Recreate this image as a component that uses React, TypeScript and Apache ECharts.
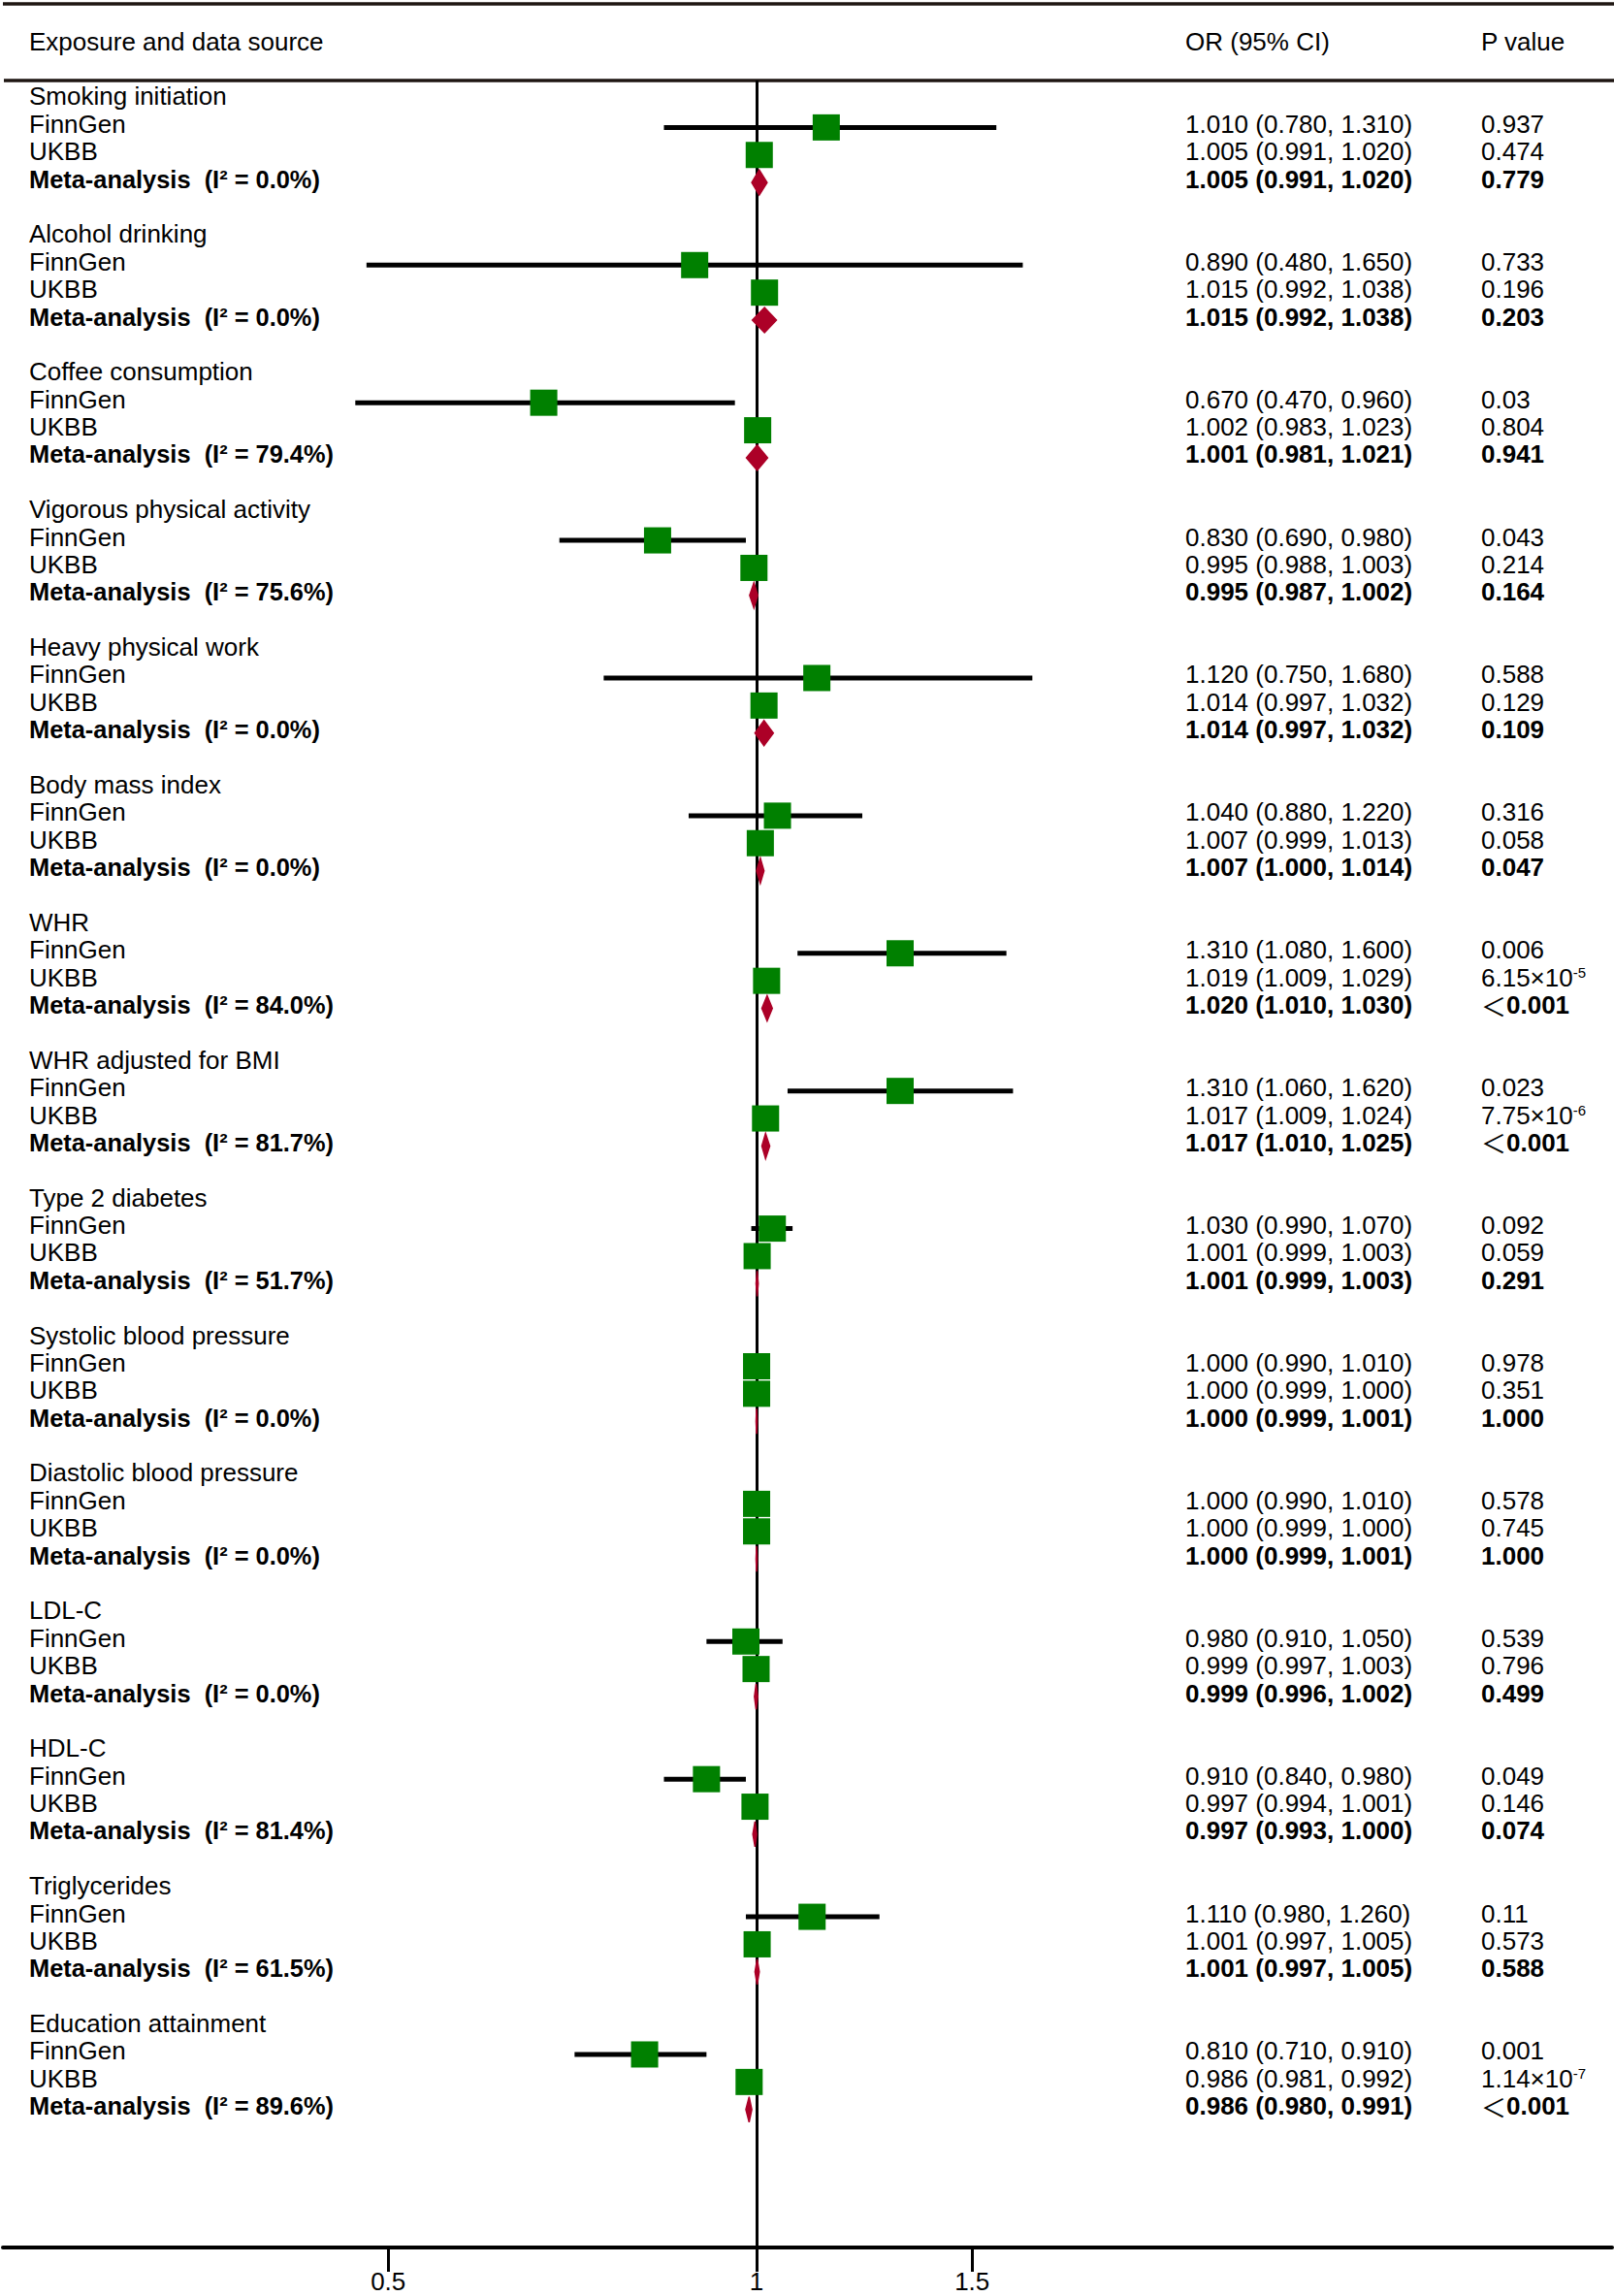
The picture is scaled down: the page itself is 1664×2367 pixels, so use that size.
import React, { useEffect, useRef } from "react";
import * as echarts from "echarts";

// ---------------- data ----------------
const exposures = [
  "Smoking initiation",
  "Alcohol drinking",
  "Coffee consumption",
  "Vigorous physical activity",
  "Heavy physical work",
  "Body mass index",
  "WHR",
  "WHR adjusted for BMI",
  "Type 2 diabetes",
  "Systolic blood pressure",
  "Diastolic blood pressure",
  "LDL-C",
  "HDL-C",
  "Triglycerides",
  "Education attainment",
];

const i2Values = ["0.0", "0.0", "79.4", "75.6", "0.0", "0.0", "84.0", "81.7", "51.7", "0.0", "0.0", "0.0", "81.4", "61.5", "89.6"];

// FinnGen: positions of the plotted markers
const finnGenOR = [1.14, 0.89, 0.67, 0.83, 1.12, 1.04, 1.31, 1.31, 1.03, 1.0, 1.0, 0.98, 0.91, 1.11, 0.81];
const finnGenLow = [0.84, 0.48, 0.47, 0.69, 0.75, 0.88, 1.08, 1.06, 0.99, 0.99, 0.99, 0.91, 0.84, 0.98, 0.71];
const finnGenHigh = [1.57, 1.65, 0.96, 0.98, 1.68, 1.22, 1.6, 1.62, 1.07, 1.01, 1.01, 1.05, 0.98, 1.26, 0.91];
// FinnGen: printed text
const finnGenText = [
  "1.010 (0.780, 1.310)",
  "0.890 (0.480, 1.650)",
  "0.670 (0.470, 0.960)",
  "0.830 (0.690, 0.980)",
  "1.120 (0.750, 1.680)",
  "1.040 (0.880, 1.220)",
  "1.310 (1.080, 1.600)",
  "1.310 (1.060, 1.620)",
  "1.030 (0.990, 1.070)",
  "1.000 (0.990, 1.010)",
  "1.000 (0.990, 1.010)",
  "0.980 (0.910, 1.050)",
  "0.910 (0.840, 0.980)",
  "1.110 (0.980, 1.260)",
  "0.810 (0.710, 0.910)",
];
const finnGenP = ["0.937", "0.733", "0.03", "0.043", "0.588", "0.316", "0.006", "0.023", "0.092", "0.978", "0.578", "0.539", "0.049", "0.11", "0.001"];

const ukbbOR = [1.005, 1.015, 1.002, 0.995, 1.014, 1.007, 1.019, 1.017, 1.001, 1.0, 1.0, 0.999, 0.997, 1.001, 0.986];
const ukbbLow = [0.991, 0.992, 0.983, 0.988, 0.997, 0.999, 1.009, 1.009, 0.999, 0.999, 0.999, 0.997, 0.994, 0.997, 0.981];
const ukbbHigh = [1.02, 1.038, 1.023, 1.003, 1.032, 1.013, 1.029, 1.024, 1.003, 1.0, 1.0, 1.003, 1.001, 1.005, 0.992];
const ukbbP = ["0.474", "0.196", "0.804", "0.214", "0.129", "0.058", "6.15×10^-5", "7.75×10^-6", "0.059", "0.351", "0.745", "0.796", "0.146", "0.573", "1.14×10^-7"];

const metaOR = [1.005, 1.015, 1.001, 0.995, 1.014, 1.007, 1.02, 1.017, 1.001, 1.0, 1.0, 0.999, 0.997, 1.001, 0.986];
const metaLow = [0.991, 0.992, 0.981, 0.987, 0.997, 1.0, 1.01, 1.01, 0.999, 0.999, 0.999, 0.996, 0.993, 0.997, 0.98];
const metaHigh = [1.02, 1.038, 1.021, 1.002, 1.032, 1.014, 1.03, 1.025, 1.003, 1.001, 1.001, 1.002, 1.0, 1.005, 0.991];
const metaP = ["0.779", "0.203", "0.941", "0.164", "0.109", "0.047", "<0.001", "<0.001", "0.291", "1.000", "1.000", "0.499", "0.074", "0.588", "<0.001"];

const xTicks = [0.5, 1, 1.5];

// ---------------- helpers ----------------
const FONT = '"Liberation Sans", Arial, Helvetica, sans-serif';
const CJK = '"Noto Sans CJK SC", "Liberation Sans", sans-serif';
const FS = 26;
const LH = 26;
const fmt = (v: number) => v.toFixed(3);
const ciText = (o: number, l: number, h: number) => `${fmt(o)} (${fmt(l)}, ${fmt(h)})`;

const richStyles = {
  n: { fontSize: FS, lineHeight: LH, fontFamily: FONT, fontWeight: "normal", fill: "#000" },
  b: { fontSize: FS, lineHeight: LH, fontFamily: FONT, fontWeight: "bold", fill: "#000" },
  bl: { fontSize: 25.4, lineHeight: LH, fontFamily: FONT, fontWeight: "bold", fill: "#000" },
  s: { fontSize: 15, lineHeight: 15, fontFamily: FONT, fontWeight: "normal", fill: "#000", verticalAlign: "top" },
  lt: { fontSize: FS, lineHeight: LH, fontFamily: CJK, fontWeight: "normal", fill: "#000" },
};

function pRich(p: string, bold: boolean): string {
  const w = bold ? "b" : "n";
  if (p.startsWith("<")) return `{lt|＜}{${w}|${p.slice(1)}}`;
  const parts = p.split("^");
  if (parts.length === 2) return `{${w}|${parts[0]}}{s|${parts[1]}}`;
  return `{${w}|${p}}`;
}

type TextRow = { row: number; label: string; or: string; p: string; bold: boolean };

const ROWS_PER_GROUP = 5;
const textRows: TextRow[] = [];
exposures.forEach((name, g) => {
  const base = g * ROWS_PER_GROUP;
  textRows.push({ row: base, label: name, or: "", p: "", bold: false });
  textRows.push({ row: base + 1, label: "FinnGen", or: finnGenText[g], p: finnGenP[g], bold: false });
  textRows.push({ row: base + 2, label: "UKBB", or: ciText(ukbbOR[g], ukbbLow[g], ukbbHigh[g]), p: ukbbP[g], bold: false });
  textRows.push({
    row: base + 3,
    label: `Meta-analysis\u00a0\u00a0(I² = ${i2Values[g]}%)`,
    or: ciText(metaOR[g], metaLow[g], metaHigh[g]),
    p: metaP[g],
    bold: true,
  });
});

const ciData: number[][] = [];
const squareData: number[][] = [];
const diamondData: number[][] = [];
exposures.forEach((_, g) => {
  const base = g * ROWS_PER_GROUP;
  ciData.push([finnGenLow[g], base + 1, finnGenHigh[g]]);
  ciData.push([ukbbLow[g], base + 2, ukbbHigh[g]]);
  squareData.push([finnGenOR[g], base + 1]);
  squareData.push([ukbbOR[g], base + 2]);
  diamondData.push([metaOR[g], base + 3, metaLow[g], metaHigh[g]]);
});

// layout constants
const W = 1664;
const H = 2367;
const COL_LABEL = 30;
const COL_OR = 1222;
const COL_P = 1527;
const TEXT_SHIFT = -3.5;

export default function App() {
  const ref = useRef<HTMLDivElement>(null);

  useEffect(() => {
    if (!ref.current) return;
    const chart = echarts.init(ref.current, null, { renderer: "svg" });

    const option: any = {
      animation: false,
      backgroundColor: "#fff",
      grid: { left: 3, right: 2, top: 83, bottom: H - 2317, containLabel: false },
      xAxis: {
        type: "log",
        logBase: 10,
        min: 0.2422,
        max: 5.0,
        splitLine: { show: false },
        axisLine: { show: true, onZero: false, lineStyle: { color: "#000", width: 4 } },
        axisTick: { show: true, customValues: xTicks, length: 25, lineStyle: { color: "#000", width: 3 } },
        axisLabel: {
          show: true,
          customValues: xTicks,
          margin: 25,
          fontSize: 26,
          lineHeight: 20,
          fontFamily: FONT,
          color: "#000",
          formatter: (v: number) => String(Math.round(v * 10) / 10),
        },
      },
      yAxis: {
        type: "value",
        inverse: true,
        min: -0.7047,
        max: 78.013,
        show: false,
        splitLine: { show: false },
      },
      graphic: [
        { type: "line", shape: { x1: 3, y1: 4, x2: W, y2: 4 }, style: { stroke: "#1e1612", lineWidth: 3.5 } },
        { type: "line", shape: { x1: 4, y1: 83, x2: W, y2: 83 }, style: { stroke: "#1e1612", lineWidth: 3.5 } },
        { type: "text", x: COL_LABEL, y: 43, style: { text: "Exposure and data source", font: `${FS}px ${FONT}`, fill: "#000", verticalAlign: "middle" } },
        { type: "text", x: COL_OR, y: 43, style: { text: "OR (95% CI)", font: `${FS}px ${FONT}`, fill: "#000", verticalAlign: "middle" } },
        { type: "text", x: COL_P, y: 43, style: { text: "P value", font: `${FS}px ${FONT}`, fill: "#000", verticalAlign: "middle" } },
      ],
      series: [
        {
          type: "custom",
          name: "ci",
          z: 2,
          silent: true,
          clip: false,
          data: ciData,
          renderItem: (params: any, api: any) => {
            const a = api.coord([api.value(0), api.value(1)]);
            const b = api.coord([api.value(2), api.value(1)]);
            return {
              type: "line",
              shape: { x1: a[0], y1: a[1], x2: b[0], y2: b[1] },
              style: { stroke: "#000", lineWidth: 5 },
            };
          },
          markLine: {
            silent: true,
            symbol: ["none", "none"],
            label: { show: false },
            lineStyle: { color: "#000", width: 3, type: "solid" },
            data: [{ xAxis: 1 }],
          },
        },
        {
          type: "scatter",
          name: "estimates",
          z: 10,
          silent: true,
          symbol: "rect",
          symbolSize: [28, 27],
          itemStyle: { color: "#008000", opacity: 1 },
          data: squareData,
        },
        {
          type: "custom",
          name: "meta",
          z: 10,
          silent: true,
          clip: false,
          data: diamondData,
          renderItem: (params: any, api: any) => {
            const c = api.coord([api.value(0), api.value(1)]);
            const l = api.coord([api.value(2), api.value(1)]);
            const h = api.coord([api.value(3), api.value(1)]);
            const hh = 13;
            return {
              type: "polygon",
              shape: { points: [[l[0], c[1]], [c[0], c[1] - hh], [h[0], c[1]], [c[0], c[1] + hh]] },
              style: { fill: "#AC0027", stroke: "#AC0027", lineWidth: 1.5 },
            };
          },
        },
        {
          type: "custom",
          name: "table",
          z: 20,
          silent: true,
          clip: false,
          data: textRows.map((r) => [1, r.row]),
          renderItem: (params: any, api: any) => {
            const rec = textRows[params.dataIndex];
            const y = api.coord([1, rec.row])[1] + TEXT_SHIFT;
            const w = rec.bold ? "b" : "n";
            const children: any[] = [
              {
                type: "text",
                x: COL_LABEL,
                y,
                style: { text: `{${rec.bold ? "bl" : "n"}|${rec.label}}`, rich: richStyles, verticalAlign: "middle", align: "left" },
              },
            ];
            if (rec.or) {
              children.push({
                type: "text",
                x: COL_OR,
                y,
                style: { text: `{${w}|${rec.or}}`, rich: richStyles, verticalAlign: "middle", align: "left" },
              });
            }
            if (rec.p) {
              children.push({
                type: "text",
                x: COL_P,
                y,
                style: { text: pRich(rec.p, rec.bold), rich: richStyles, verticalAlign: "middle", align: "left" },
              });
            }
            return { type: "group", children };
          },
        },
      ],
    };

    chart.setOption(option);
    return () => chart.dispose();
  }, []);

  return (
    <div
      ref={ref}
      style={{ position: "absolute", left: 0, top: 0, width: W, height: H, background: "#fff" }}
    />
  );
}
